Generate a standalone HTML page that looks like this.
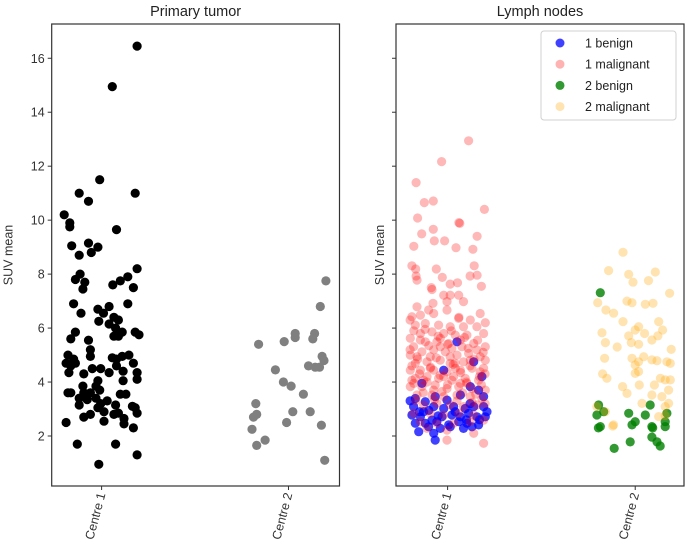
<!DOCTYPE html>
<html><head><meta charset="utf-8">
<style>
html,body{margin:0;padding:0;background:#fff;}
svg{display:block;font-family:"Liberation Sans","DejaVu Sans",sans-serif;}
</style></head>
<body>
<svg id="chart" width="685" height="557" viewBox="0 0 685 557" xmlns="http://www.w3.org/2000/svg"></svg>
<script>
// ---- data ----
const categories = ["Centre 1", "Centre 2"];
const yTicks = [2, 4, 6, 8, 10, 12, 14, 16];
const legendLabels = ["1 benign", "1 malignant", "2 benign", "2 malignant"];

const ptC1Off = [.19,.057,-.01,-.12,.18,-.07,-.2,-.17,-.17,.08,-.16,-.07,-.02,-.055,-.12,.19,-.115,-.14,-.09,-.1,.14,.1,.06,.17,-.15,.14,-.11,-.02,.04,.01,-.015,.066,.09,.04,.075,.11,.18,.2,-.14,-.165,-.07,.066,.09,-.06,-.18,-.15,-.06,.057,.08,.146,.11,-.19,-.165,-.14,.17,-.175,-.095,-.05,-.005,.04,.08,.115,.19,.19,.115,-.02,-.1,-.03,-.01,-.18,-.165,-.095,-.06,.13,.1,-.12,-.077,-.03,-.12,-.005,.03,.075,.165,.18,-.02,.013,.09,.066,.19,-.06,-.095,.12,-.19,.013,.12,.17,-.13,.075,.19,-.015];
const ptC1Val = [16.45,14.95,11.5,11.0,11.0,10.7,10.2,9.9,9.75,9.65,9.05,9.15,9.0,8.8,8.7,8.2,8.0,7.8,7.7,7.45,7.9,7.75,7.6,7.5,6.9,6.9,6.55,6.7,6.8,6.55,6.25,6.4,6.3,6.15,6.0,5.85,5.85,5.75,5.85,5.6,5.55,5.7,5.7,5.2,5.0,4.85,4.95,4.9,4.85,5.0,4.95,4.7,4.6,4.7,4.7,4.35,4.3,4.5,4.5,4.35,4.6,4.4,4.35,4.1,4.05,4.05,3.85,3.85,3.7,3.6,3.6,3.6,3.6,3.55,3.55,3.4,3.35,3.4,3.15,3.2,3.3,3.15,3.1,3.05,3.05,2.9,2.85,2.8,2.85,2.8,2.7,2.65,2.5,2.55,2.45,2.3,1.7,1.7,1.3,0.95];
const ptC2Off = [.2,.17,.036,.036,.14,.13,-.023,-.16,.18,.19,.107,.143,.166,-.07,-.027,.014,.08,-.175,-.17,-.187,.023,.116,-.01,.176,-.195,-.125,-.17,.194];
const ptC2Val = [7.75,6.8,5.8,5.65,5.8,5.6,5.5,5.4,4.95,4.8,4.6,4.55,4.55,4.45,4.0,3.85,3.55,3.2,2.8,2.7,2.9,2.9,2.5,2.4,2.25,1.85,1.65,1.1];

const ln1MalOff = [.112,-.032,-.168,-.124,-.076,.196,-.16,.06,.065,-.076,-.138,.157,-.071,-.016,-.18,.045,.135,-.19,-.17,-.06,.142,-.168,-.028,.12,.157,-.087,.014,.053,.18,
-.163,-.083,-.021,.014,.059,-.078,-.003,.085,-.163,-.101,-.19,-.145,-.074,-.003,.174,.059,.121,.201,-.172,-.119,-.048,.014,.085,.156,-.199,-.145,-.083,-.021,.041,.103,.192,-.181,-.119,-.057,.006,.077,.139,.201,-.199,-.137,-.074,-.012,.05,.112,.174,-.172,-.11,-.039,.014,.085,.201,-.199,-.145,-.074,-.003,.068,.13,.192,-.172,-.11,-.048,.023,.094,.165,-.199,-.137,-.066,-.003,.059,.13,.201,-.163,-.083,-.021,.05,.121,.183,-.128,-.057,.014,.085,.156,-.181,-.092,-.021,.059,.139,-.145,-.057,.032,.121,.192,-.11,-.003,.139,-.003,.192,
-.145,-.039,.068,-.092,.014,.121,-.128,-.021,.068,-.074,.032,-.039,-.163,.156,-.092,.041,.103,.174,-.19,.023,
-.18,-.12,-.05,.02,.09,.16,-.2,-.1,.0,.11,.19,-.16,-.06,.04,.14,-.19,-.09,.03,.12,.2,-.15,-.04,.07,.17,-.18,-.11,.0,.1,.18,-.13,-.03,.08,.15,-.17,-.07,.05,.13,.2,-.2,.06];
const ln1MalVal = [12.94,12.17,11.39,10.65,10.71,10.40,10.08,9.91,9.88,9.66,9.49,9.40,9.23,9.23,9.03,8.98,8.92,8.31,8.19,8.19,8.31,7.93,7.88,7.93,7.96,7.50,7.63,7.68,7.55,
7.78,7.43,7.22,7.22,7.22,6.92,6.98,6.98,6.79,6.67,6.42,6.48,6.54,6.67,6.54,6.36,6.30,6.20,6.11,6.17,6.11,6.05,6.05,6.05,5.62,5.80,5.86,5.80,5.74,5.74,5.80,5.31,5.49,5.49,5.43,5.31,5.43,5.31,5.00,5.12,5.19,5.12,5.00,5.06,4.94,4.69,4.75,4.81,4.69,4.75,4.81,4.44,4.44,4.44,4.38,4.44,4.51,4.51,4.14,4.20,4.14,4.07,4.14,4.07,3.83,3.83,3.89,3.76,3.83,3.76,3.70,3.52,3.52,3.46,3.52,3.46,3.39,3.15,3.21,3.15,3.09,3.15,2.84,2.84,2.78,2.84,2.78,2.53,2.47,2.47,2.53,2.59,2.28,2.22,2.10,1.85,1.73,
5.56,5.62,5.56,4.94,4.94,4.81,4.07,4.20,3.95,3.70,4.20,5.31,4.94,5.19,4.51,4.51,3.95,4.38,4.07,5.25,
5.9,5.95,5.7,5.9,5.65,5.55,5.2,5.35,5.4,5.25,5.1,4.85,4.9,4.7,4.85,4.6,4.55,4.65,4.6,4.3,4.3,4.25,4.35,4.2,3.95,4.0,3.9,4.0,3.9,3.6,3.65,3.6,3.55,3.3,3.35,3.3,3.25,3.2,6.3,6.4];

const ln1BenOff = [.05,.139,.183,-.021,-.137,.121,.165,-.172,-.119,-.066,-.003,.068,.192,-.181,-.128,-.074,-.021,.032,.094,.139,.192,-.19,-.145,-.083,-.03,.023,.068,.112,.156,.201,-.172,-.119,-.057,.006,.059,.103,.165,-.154,-.074,-.066,.014,.085,.13,.21,-.101,-.039,
-.2,-.1,.04,.1,.17,-.15,-.05,.12];
const ln1BenVal = [5.49,4.75,4.20,4.44,3.95,3.83,3.70,3.39,3.27,3.46,3.33,3.52,3.46,3.09,2.90,3.09,3.02,3.09,3.02,3.09,3.09,2.78,2.71,2.59,2.71,2.78,2.71,2.84,2.71,2.71,2.47,2.47,2.53,2.41,2.53,2.47,2.41,2.16,2.10,1.85,2.34,2.28,2.34,2.90,2.34,2.28,
3.3,2.95,2.9,2.6,2.6,2.9,2.75,3.2];

const ln2MalOff = [-.065,-.142,-.035,-.012,.071,.107,.183,-.2,-.044,-.017,.054,.095,-.156,-.115,-.065,.125,.146,.018,0,.05,.121,.089,-.177,-.035,-.159,-.021,.018,-.096,.192,-.163,-.017,.045,.018,.089,.116,.169,.187,0,-.174,-.151,.018,0,.134,.16,.187,-.067,-.044,.022,.102,.178,.089,.142,.178,-.115,.036,.125,.16,-.159,-.204,-.12,.16];
const ln2MalVal = [8.81,8.13,7.99,7.70,7.76,8.08,7.29,6.94,7.00,6.94,6.88,6.92,6.67,6.55,6.24,6.24,5.93,6.05,5.93,5.80,5.71,5.56,5.83,5.71,5.46,5.46,5.40,5.30,5.21,4.88,4.88,4.94,4.75,4.82,4.79,4.75,4.69,4.63,4.30,4.14,4.39,4.32,4.14,4.08,4.08,3.83,3.58,3.89,3.89,3.70,3.52,3.46,3.21,2.41,3.21,2.72,3.09,2.90,3.09,2.37,2.76];

const ln2BenOff = [-.186,-.195,-.168,-.204,-.035,.08,.054,0,-.017,.169,.16,-.186,.089,.16,-.112,-.027,.089,.133,.116,-.196,.093];
const ln2BenVal = [7.31,3.15,2.90,2.78,2.84,3.15,2.78,2.53,2.41,2.84,2.53,2.35,2.35,2.35,1.54,1.78,1.96,1.63,1.78,2.30,2.30];

// ---- layout ----
const NS = "http://www.w3.org/2000/svg";
const svg = document.getElementById("chart");
const plotTop = 24, plotBottom = 486;
const yMin = 0.147, yMax = 17.27;
function yScale(v){ return plotBottom - (v - yMin) / (yMax - yMin) * (plotBottom - plotTop); }
const panels = [
  {left: 51.7, right: 339.5, xMin: -0.267, xMax: 1.273, title: "Primary tumor", labels: true, name: "primary-tumor"},
  {left: 396, right: 684, xMin: -0.275, xMax: 1.26, title: "Lymph nodes", labels: false, name: "lymph-nodes"}
];
function xScaleFor(p){ return v => p.left + (v - p.xMin) / (p.xMax - p.xMin) * (p.right - p.left); }

function mk(tag, attrs, parent){
  const e = document.createElementNS(NS, tag);
  for (const k in attrs) e.setAttribute(k, attrs[k]);
  (parent || svg).appendChild(e);
  return e;
}

const defs = mk("defs", {});
panels.forEach((p, i) => {
  const cp = mk("clipPath", {id: "clip" + i}, defs);
  mk("rect", {x: p.left, y: plotTop, width: p.right - p.left, height: plotBottom - plotTop}, cp);
});

function scatter(g, xs, offs, vals, cat, color, opacity, r, name){
  for (let i = 0; i < offs.length; i++){
    const c = mk("circle", {cx: xs(cat + offs[i]).toFixed(1), cy: yScale(vals[i]).toFixed(1), r: r, fill: color, "fill-opacity": opacity}, g);
    
    
  }
}

panels.forEach((p, i) => {
  const xs = xScaleFor(p);
  const g = mk("g", {"clip-path": "url(#clip" + i + ")"});
  
  
  if (i === 0){
    scatter(g, xs, ptC1Off, ptC1Val, 0, "#000000", 1, 4.6, 'primary-centre1-point');
    scatter(g, xs, ptC2Off, ptC2Val, 1, "#808080", 1, 4.6, 'primary-centre2-point');
  } else {
    scatter(g, xs, ln1BenOff, ln1BenVal, 0, "#0000ff", 0.75, 4.6, 'lymph-1-benign-point');
    scatter(g, xs, ln1MalOff, ln1MalVal, 0, "#ff0000", 0.28, 4.6, 'lymph-1-malignant-point');
    scatter(g, xs, ln2BenOff, ln2BenVal, 1, "#008000", 0.8, 4.6, 'lymph-2-benign-point');
    scatter(g, xs, ln2MalOff, ln2MalVal, 1, "#ffa500", 0.3, 4.6, 'lymph-2-malignant-point');
  }
  const fr = mk("rect", {x: p.left, y: plotTop, width: p.right - p.left, height: plotBottom - plotTop, fill: "none", stroke: "#333", "stroke-width": 1.2});
  
  
  yTicks.forEach(t => {
    const y = yScale(t);
    const tk = mk("line", {x1: p.left - 4, x2: p.left, y1: y, y2: y, stroke: "#333", "stroke-width": 1});
    
    
    if (p.labels){
      const tl = mk("text", {x: p.left - 7, y: y + 4.5, "text-anchor": "end", "font-size": 12.5, fill: "#333"});
      tl.textContent = t;
      
      
    }
  });
  categories.forEach((c, k) => {
    const x = xs(k);
    const tk = mk("line", {x1: x, x2: x, y1: plotBottom, y2: plotBottom + 4, stroke: "#333", "stroke-width": 1});
    
    
    const tl = mk("text", {x: 0, y: 0, "text-anchor": "end", "font-size": 12.5, fill: "#333", transform: "translate(" + (x + 4) + "," + (plotBottom + 8) + ") rotate(-75)"});
    tl.textContent = c;
    
    
  });
  const tt = mk("text", {x: (p.left + p.right) / 2, y: 16, "text-anchor": "middle", "font-size": 14.5, fill: "#222"});
  tt.textContent = p.title;
  
  
  const yl = mk("text", {x: 0, y: 0, "text-anchor": "middle", "font-size": 12.5, fill: "#333", transform: "translate(" + (p.left - (i === 0 ? 39 : 12) ) + "," + 255 + ") rotate(-90)"});
  yl.textContent = "SUV mean";
  
  
});

const legendColors = ["#0000ff", "#ff0000", "#008000", "#ffa500"];
const legendAlpha = [0.75, 0.3, 0.8, 0.3];
const lg = mk("g", {});


mk("rect", {x: 541, y: 31, width: 135, height: 89, rx: 3, fill: "#fff", "fill-opacity": 0.85, stroke: "#d0d0d0", "stroke-width": 1}, lg);
legendLabels.forEach((lab, i) => {
  const y = 43 + i * 21.2;
  const e = mk("g", {}, lg);
  
  
  mk("circle", {cx: 560, cy: y, r: 4.5, fill: legendColors[i], "fill-opacity": legendAlpha[i]}, e);
  const t = mk("text", {x: 585, y: y + 4.5, "font-size": 12.5, fill: "#222"}, e);
  t.textContent = lab;
});
</script>
</body></html>
